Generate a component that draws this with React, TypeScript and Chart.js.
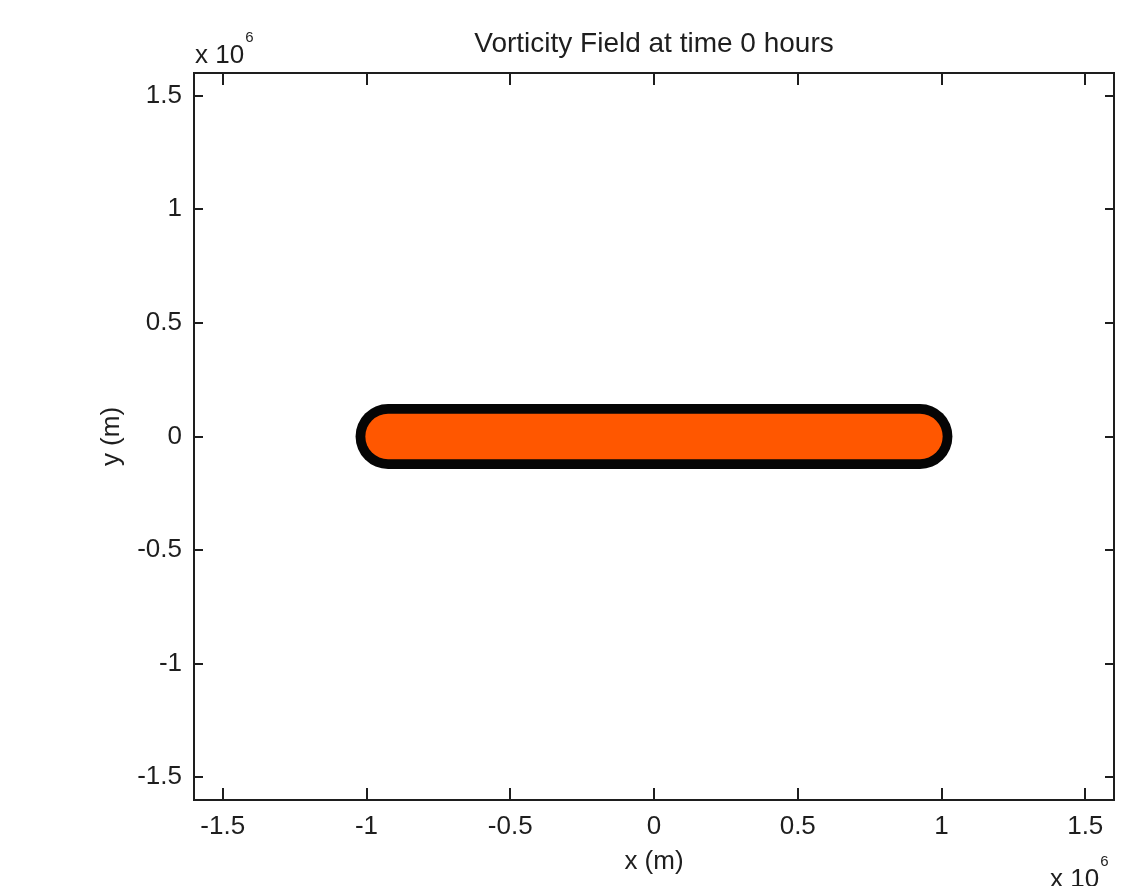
import React, { useEffect, useRef } from "react";
import { Chart, registerables } from "chart.js";

Chart.register(...registerables);

// ---- data ----
const X_TICKS = [-1.5e6, -1e6, -0.5e6, 0, 0.5e6, 1e6, 1.5e6];
const Y_TICKS = [-1.5e6, -1e6, -0.5e6, 0, 0.5e6, 1e6, 1.5e6];
const AXIS_MIN = -1.6e6;
const AXIS_MAX = 1.6e6;
// vorticity patch: centre line of the strip and its half thickness (m)
const PATCH_X = [-0.925e6, 0.925e6];
const PATCH_Y = [0, 0];
const PATCH_HALF = 0.1e6;
const OUTLINE_HALF = 0.143e6;

const TITLE = "Vorticity Field at time 0 hours";
const X_LABEL = "x (m)";
const Y_LABEL = "y (m)";
const FAMILY = '"Liberation Sans", Arial, Helvetica, sans-serif';
const INK = "#1e1e1e";

const thicknessFor = (half: number) => (ctx: any) => {
  const ys = ctx.chart.scales && ctx.chart.scales.y;
  if (!ys) return 1;
  const w = Math.abs(ys.getPixelForValue(0) - ys.getPixelForValue(2 * half));
  return isFinite(w) && w > 0 ? w : 1;
};

const framePlugin = {
  id: "matlabFrame",
  afterDraw(chart: any) {
    const { ctx, chartArea } = chart;
    const { left, right, top, bottom } = chartArea;
    const xs = chart.scales.x;
    const ys = chart.scales.y;
    ctx.save();
    ctx.strokeStyle = INK;
    ctx.lineWidth = 2;
    ctx.beginPath();
    xs.ticks.forEach((t: any) => {
      const px = Math.round(xs.getPixelForValue(t.value));
      ctx.moveTo(px, bottom);
      ctx.lineTo(px, bottom - 12);
      ctx.moveTo(px, top);
      ctx.lineTo(px, top + 12);
    });
    ys.ticks.forEach((t: any) => {
      const py = Math.round(ys.getPixelForValue(t.value));
      ctx.moveTo(left, py);
      ctx.lineTo(left + 9, py);
      ctx.moveTo(right, py);
      ctx.lineTo(right - 9, py);
    });
    ctx.stroke();
    ctx.strokeRect(left, top, right - left, bottom - top);

    // exponent labels
    ctx.fillStyle = INK;
    ctx.textAlign = "left";
    ctx.textBaseline = "alphabetic";
    const drawExp = (x0: number, base: number) => {
      ctx.font = `26px ${FAMILY}`;
      ctx.fillText("x 10", x0, base);
      const w = ctx.measureText("x 10").width;
      ctx.font = `15px ${FAMILY}`;
      ctx.fillText("6", x0 + w + 1, base - 21);
    };
    drawExp(left + 1, top - 10);
    drawExp(right - 64, bottom + 87);
    ctx.restore();
  },
};

export default function App() {
  const ref = useRef<HTMLCanvasElement | null>(null);

  useEffect(() => {
    if (!ref.current) return;
    Chart.defaults.font.family = FAMILY;
    Chart.defaults.color = INK;
    const pts = PATCH_X.map((x, i) => ({ x, y: PATCH_Y[i] }));
    const chart = new Chart(ref.current, {
      type: "line",
      data: {
        datasets: [
          {
            label: "patch",
            data: pts,
            borderColor: "#ff5700",
            borderWidth: thicknessFor(PATCH_HALF) as any,
            borderCapStyle: "round",
            pointRadius: 0,
            fill: false,
            order: 0,
          },
          {
            label: "outline",
            data: pts,
            borderColor: "#050505",
            borderWidth: thicknessFor(OUTLINE_HALF) as any,
            borderCapStyle: "round",
            pointRadius: 0,
            fill: false,
            order: 1,
          },
        ],
      },
      plugins: [framePlugin],
      options: {
        animation: false,
        responsive: false,
        maintainAspectRatio: false,
        layout: { padding: { left: 0, right: 11, top: 0, bottom: 0 } },
        plugins: {
          legend: { display: false },
          tooltip: { enabled: false },
          title: {
            display: true,
            text: TITLE,
            fullSize: false,
            color: INK,
            font: { size: 28, weight: "normal", lineHeight: 1.2 },
            padding: { top: 27, bottom: 12.4 },
          },
        },
        scales: {
          x: {
            type: "linear",
            min: AXIS_MIN,
            max: AXIS_MAX,
            afterBuildTicks: (s: any) => {
              s.ticks = X_TICKS.map((v) => ({ value: v }));
            },
            afterFit: (s: any) => {
              s.height = 86;
            },
            grid: { display: false },
            border: { display: false },
            ticks: {
              autoSkip: false,
              maxRotation: 0,
              padding: 3,
              color: INK,
              font: { size: 26 },
              callback: (v: any) => String(Number(v) / 1e6),
            },
            title: {
              display: true,
              text: X_LABEL,
              color: INK,
              font: { size: 26 },
              padding: { top: 0, bottom: 9 },
            },
          },
          y: {
            type: "linear",
            min: AXIS_MIN,
            max: AXIS_MAX,
            afterBuildTicks: (s: any) => {
              s.ticks = Y_TICKS.map((v) => ({ value: v }));
            },
            afterFit: (s: any) => {
              s.width = 194;
            },
            grid: { display: false },
            border: { display: false },
            ticks: {
              autoSkip: false,
              padding: 4,
              color: INK,
              font: { size: 26 },
              callback: (v: any) => String(Number(v) / 1e6),
            },
            title: {
              display: true,
              text: Y_LABEL,
              color: INK,
              font: { size: 26 },
              padding: { top: 96, bottom: 0 },
            },
          },
        },
      },
    });
    return () => chart.destroy();
  }, []);

  return (
    <div
      style={{
        position: "fixed",
        left: 0,
        top: 0,
        width: 1125,
        height: 886,
        background: "#fff",
      }}
    >
      <canvas ref={ref} width={1125} height={886} style={{ display: "block" }} />
    </div>
  );
}
